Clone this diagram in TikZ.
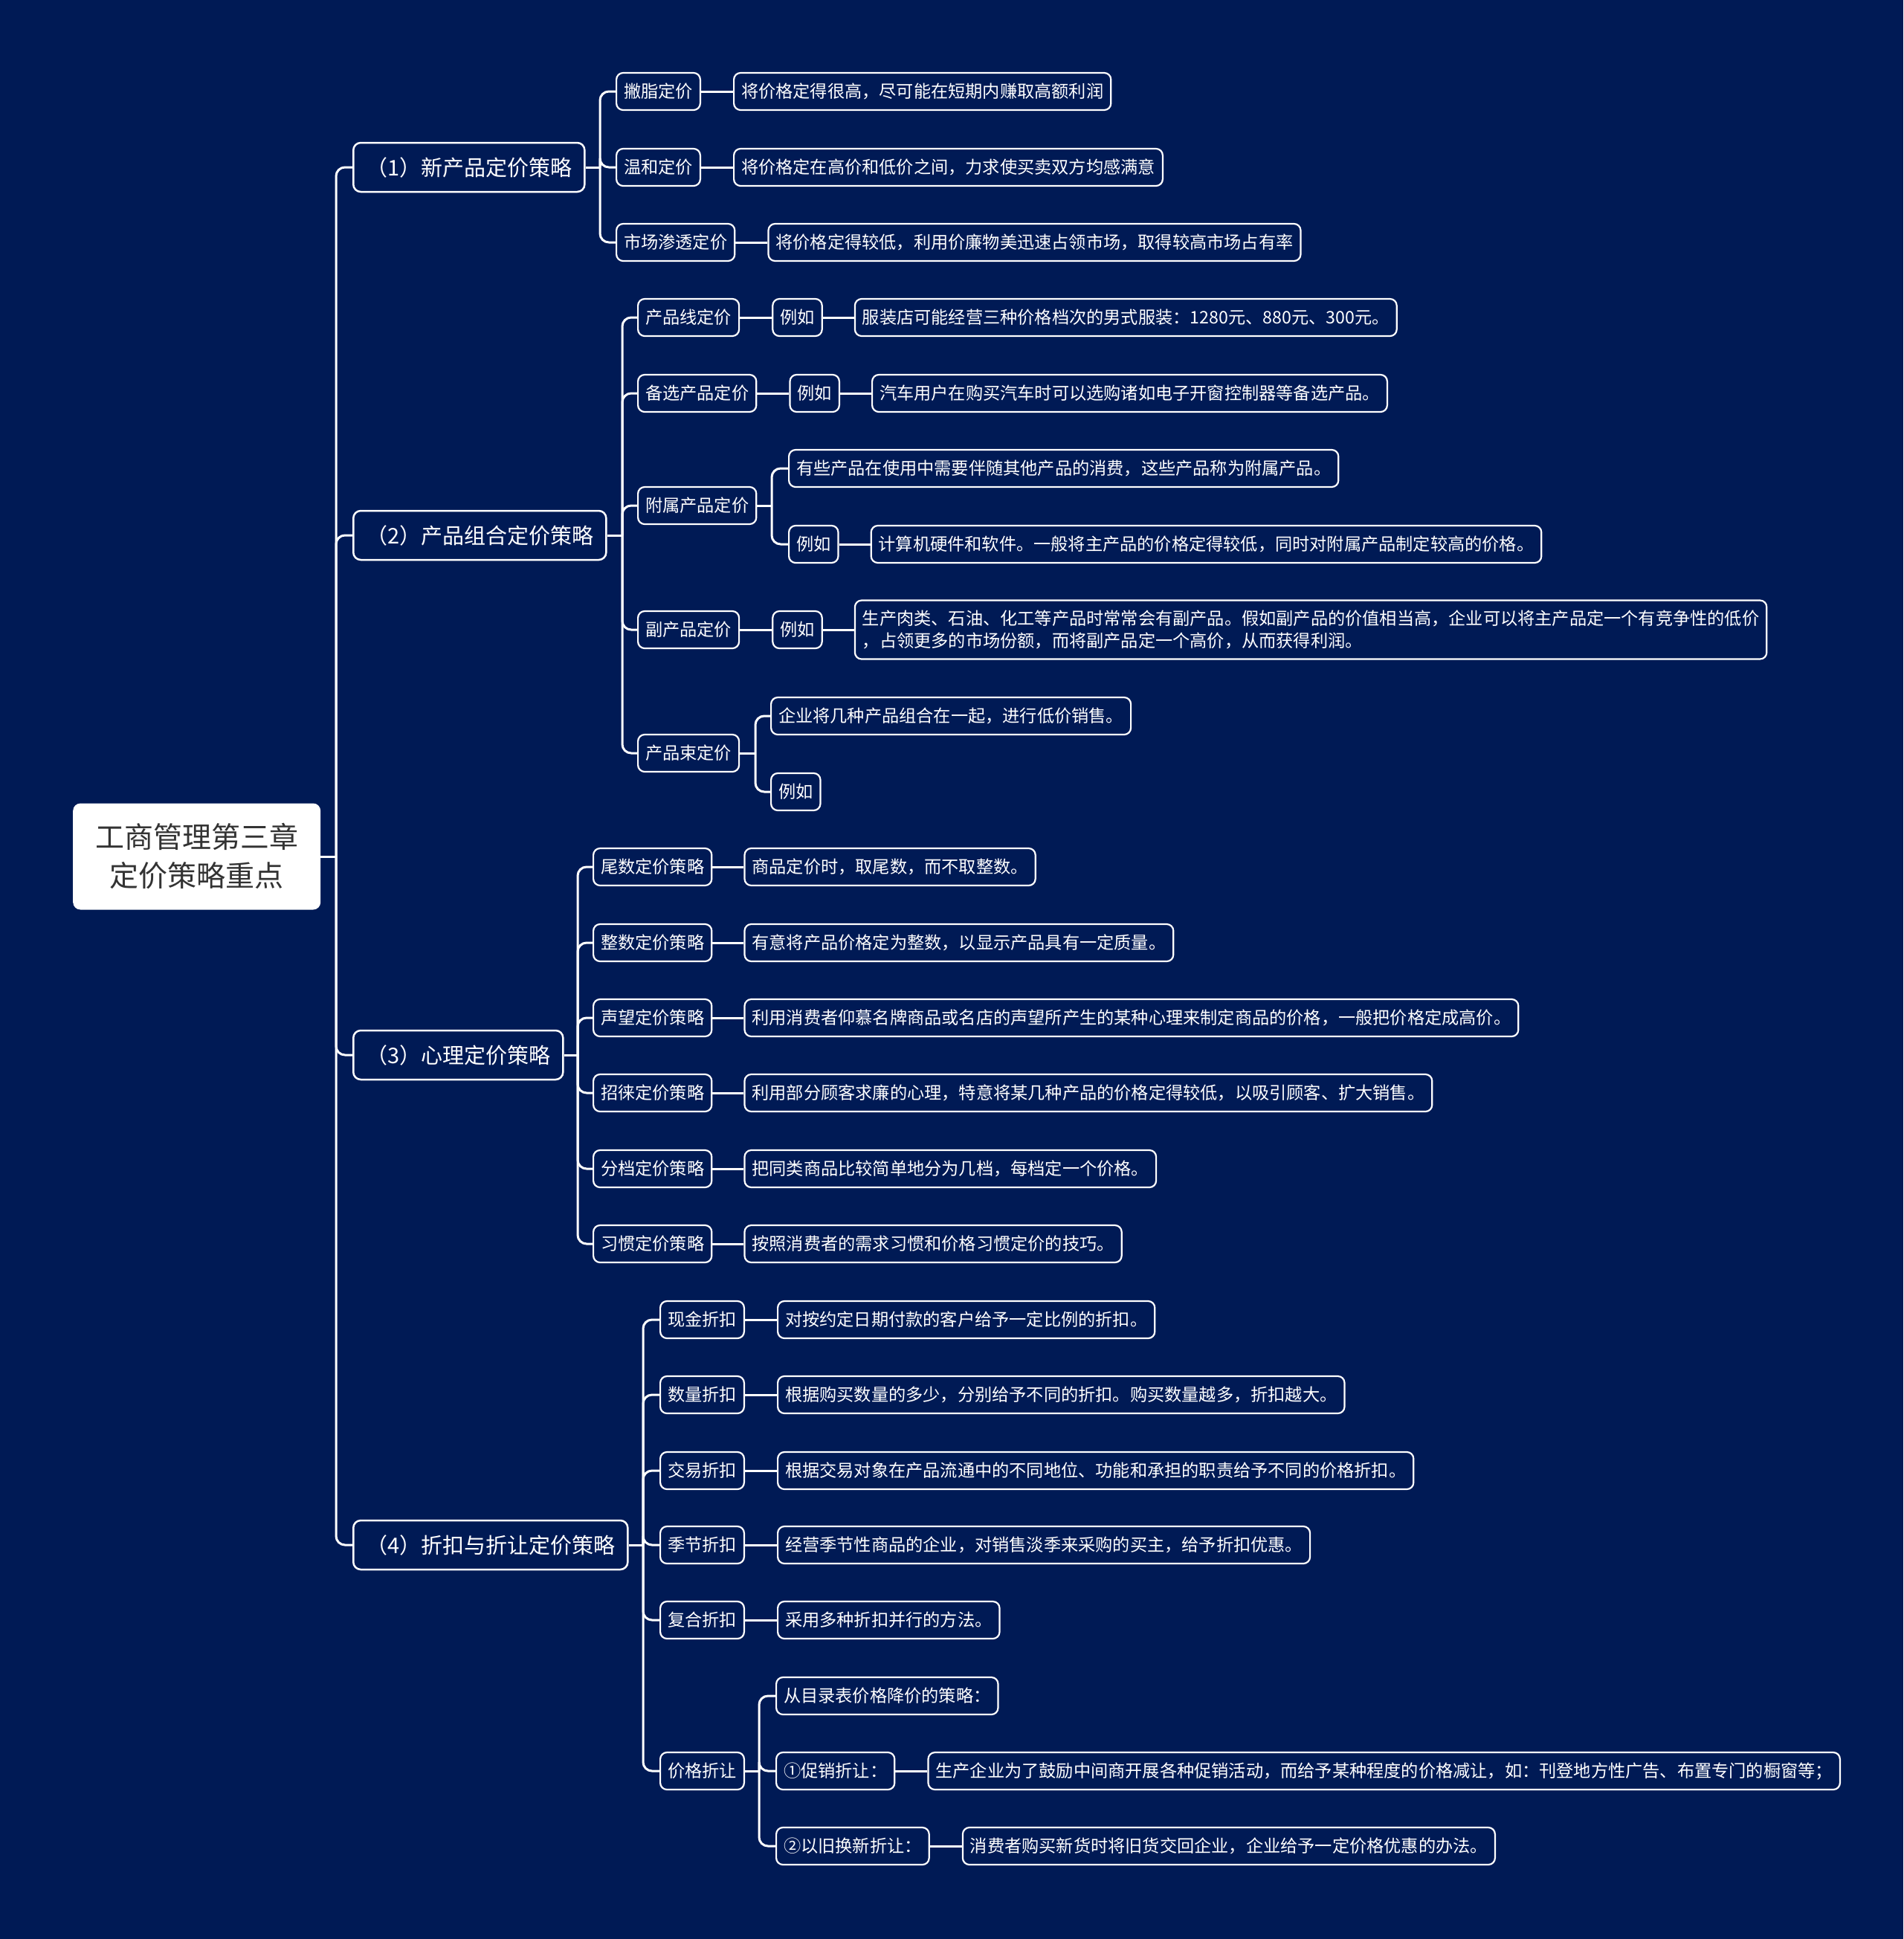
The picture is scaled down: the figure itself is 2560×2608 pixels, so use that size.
\documentclass[tikz,border=0pt]{standalone}
\usepackage{fontspec}
\setmainfont{Noto Sans CJK SC}
\usetikzlibrary{positioning}
\definecolor{navy}{HTML}{001A55}

\begin{document}
\begin{tikzpicture}[x=1pt,y=-1pt]
  \tikzset{
    link/.style={white, line width=3pt, rounded corners=12pt},
    rootbox/.style={fill=white, text=black!80, rounded corners=10pt, minimum width=333pt, minimum height=143pt, align=center, font=\fontsize{39pt}{52pt}\selectfont},
    topic/.style={draw=white, line width=2.5pt, fill=navy, text=white, rounded corners=10pt, minimum height=66pt, inner xsep=17pt, font=\fontsize{29pt}{35pt}\selectfont},
    leaf/.style={draw=white, line width=2.2pt, fill=navy, text=white, rounded corners=9pt, minimum height=50pt, inner xsep=10pt, font=\fontsize{23.2pt}{30pt}\selectfont}
  }

  % canvas
  \useasboundingbox (0,0) rectangle (2560,2608);
  \fill[navy] (0,0) rectangle (2560,2608);

  % root and main branches
  \node[rootbox, anchor=west] (root) at (98,1152) {工商管理第三章\\定价策略重点};
  \node[topic, anchor=west] (t1) at (474,225) {（1）新产品定价策略};
  \node[topic, anchor=west] (t2) at (474,720) {（2）产品组合定价策略};
  \node[topic, anchor=west] (t3) at (474,1419) {（3）心理定价策略};
  \node[topic, anchor=west] (t4) at (474,2078) {（4）折扣与折让定价策略};

  % junctions
  \coordinate (j0) at (452,1152);
  \coordinate (j1) at (807,225);
  \coordinate (j2) at (837,720);
  \coordinate (j3) at (777,1419);
  \coordinate (j4) at (865,2078);
  \coordinate (j23) at (1038,680);
  \coordinate (j25) at (1016,1013);
  \coordinate (j46) at (1021,2382);

  % ================= (1) =================
  \node[leaf, anchor=west] (a1) at (828,123) {撇脂定价};
  \node[leaf, right=43pt of a1] (a1d) {将价格定得很高，尽可能在短期内赚取高额利润};
  \node[leaf, anchor=west] (a2) at (828,225) {温和定价};
  \node[leaf, right=43pt of a2] (a2d) {将价格定在高价和低价之间，力求使买卖双方均感满意};
  \node[leaf, anchor=west] (a3) at (828,326) {市场渗透定价};
  \node[leaf, right=43pt of a3] (a3d) {将价格定得较低，利用价廉物美迅速占领市场，取得较高市场占有率};

  % ================= (2) =================
  \node[leaf, anchor=west] (b1) at (857,427) {产品线定价};
  \node[leaf, right=43pt of b1] (b1e) {例如};
  \node[leaf, right=42pt of b1e] (b1d) {服装店可能经营三种价格档次的男式服装：1280元、880元、300元。};
  \node[leaf, anchor=west] (b2) at (857,529) {备选产品定价};
  \node[leaf, right=43pt of b2] (b2e) {例如};
  \node[leaf, right=42pt of b2e] (b2d) {汽车用户在购买汽车时可以选购诸如电子开窗控制器等备选产品。};
  \node[leaf, anchor=west] (b3) at (857,680) {附属产品定价};
  \node[leaf, anchor=west] (b3a) at (1060,630) {有些产品在使用中需要伴随其他产品的消费，这些产品称为附属产品。};
  \node[leaf, anchor=west] (b3e) at (1060,732) {例如};
  \node[leaf, right=42pt of b3e] (b3d) {计算机硬件和软件。一般将主产品的价格定得较低，同时对附属产品制定较高的价格。};
  \node[leaf, anchor=west] (b4) at (857,847) {副产品定价};
  \node[leaf, right=43pt of b4] (b4e) {例如};
  \node[leaf, right=42pt of b4e, align=left, minimum height=79pt] (b4d) {生产肉类、石油、化工等产品时常常会有副产品。假如副产品的价值相当高，企业可以将主产品定一个有竞争性的低价\\，占领更多的市场份额，而将副产品定一个高价，从而获得利润。};
  \node[leaf, anchor=west] (b5) at (857,1013) {产品束定价};
  \node[leaf, anchor=west] (b5a) at (1036,963) {企业将几种产品组合在一起，进行低价销售。};
  \node[leaf, anchor=west] (b5e) at (1036,1065) {例如};

  % ================= (3) =================
  \node[leaf, anchor=west] (c1) at (797,1166) {尾数定价策略};
  \node[leaf, right=42pt of c1] (c1d) {商品定价时，取尾数，而不取整数。};
  \node[leaf, anchor=west] (c2) at (797,1268) {整数定价策略};
  \node[leaf, right=42pt of c2] (c2d) {有意将产品价格定为整数，以显示产品具有一定质量。};
  \node[leaf, anchor=west] (c3) at (797,1369) {声望定价策略};
  \node[leaf, right=42pt of c3] (c3d) {利用消费者仰慕名牌商品或名店的声望所产生的某种心理来制定商品的价格，一般把价格定成高价。};
  \node[leaf, anchor=west] (c4) at (797,1470) {招徕定价策略};
  \node[leaf, right=42pt of c4] (c4d) {利用部分顾客求廉的心理，特意将某几种产品的价格定得较低，以吸引顾客、扩大销售。};
  \node[leaf, anchor=west] (c5) at (797,1572) {分档定价策略};
  \node[leaf, right=42pt of c5] (c5d) {把同类商品比较简单地分为几档，每档定一个价格。};
  \node[leaf, anchor=west] (c6) at (797,1673) {习惯定价策略};
  \node[leaf, right=42pt of c6] (c6d) {按照消费者的需求习惯和价格习惯定价的技巧。};

  % ================= (4) =================
  \node[leaf, anchor=west] (d1) at (887,1775) {现金折扣};
  \node[leaf, right=43pt of d1] (d1d) {对按约定日期付款的客户给予一定比例的折扣。};
  \node[leaf, anchor=west] (d2) at (887,1876) {数量折扣};
  \node[leaf, right=43pt of d2] (d2d) {根据购买数量的多少，分别给予不同的折扣。购买数量越多，折扣越大。};
  \node[leaf, anchor=west] (d3) at (887,1978) {交易折扣};
  \node[leaf, right=43pt of d3] (d3d) {根据交易对象在产品流通中的不同地位、功能和承担的职责给予不同的价格折扣。};
  \node[leaf, anchor=west] (d4) at (887,2078) {季节折扣};
  \node[leaf, right=43pt of d4] (d4d) {经营季节性商品的企业，对销售淡季来采购的买主，给予折扣优惠。};
  \node[leaf, anchor=west] (d5) at (887,2179) {复合折扣};
  \node[leaf, right=43pt of d5] (d5d) {采用多种折扣并行的方法。};
  \node[leaf, anchor=west] (d6) at (887,2382) {价格折让};
  \node[leaf, anchor=west] (d6a) at (1043,2281) {从目录表价格降价的策略：};
  \node[leaf, anchor=west] (d6b) at (1043,2382) {①促销折让：};
  \node[leaf, right=43pt of d6b] (d6bd) {生产企业为了鼓励中间商开展各种促销活动，而给予某种程度的价格减让，如：刊登地方性广告、布置专门的橱窗等；};
  \node[leaf, anchor=west] (d6c) at (1043,2483) {②以旧换新折让：};
  \node[leaf, right=43pt of d6c] (d6cd) {消费者购买新货时将旧货交回企业，企业给予一定价格优惠的办法。};

  % connectors
  \draw[link] (root.east) -- (j0);
  \foreach \n in {t1,t2,t3,t4} \draw[link] (j0) |- (\n.west);

  \draw[link] (t1.east) -- (j1);
  \foreach \n in {a1,a2,a3} \draw[link] (j1) |- (\n.west);
  \draw[link] (t2.east) -- (j2);
  \foreach \n in {b1,b2,b3,b4,b5} \draw[link] (j2) |- (\n.west);
  \draw[link] (t3.east) -- (j3);
  \foreach \n in {c1,c2,c3,c4,c5,c6} \draw[link] (j3) |- (\n.west);
  \draw[link] (t4.east) -- (j4);
  \foreach \n in {d1,d2,d3,d4,d5,d6} \draw[link] (j4) |- (\n.west);

  \draw[link] (b3.east) -- (j23);
  \foreach \n in {b3a,b3e} \draw[link] (j23) |- (\n.west);
  \draw[link] (b5.east) -- (j25);
  \foreach \n in {b5a,b5e} \draw[link] (j25) |- (\n.west);
  \draw[link] (d6.east) -- (j46);
  \foreach \n in {d6a,d6b,d6c} \draw[link] (j46) |- (\n.west);

  \foreach \a/\b in {a1/a1d,a2/a2d,a3/a3d,b1/b1e,b1e/b1d,b2/b2e,b2e/b2d,b3e/b3d,b4/b4e,b4e/b4d,c1/c1d,c2/c2d,c3/c3d,c4/c4d,c5/c5d,c6/c6d,d1/d1d,d2/d2d,d3/d3d,d4/d4d,d5/d5d,d6b/d6bd,d6c/d6cd}
    \draw[link] (\a.east) -- (\b.west);

\end{tikzpicture}
\end{document}
